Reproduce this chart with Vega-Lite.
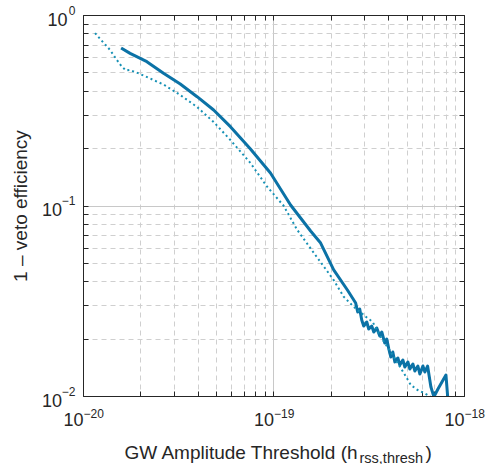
{
  "$schema": "https://vega.github.io/schema/vega-lite/v6.json",
  "width": 381,
  "height": 381,
  "autosize": {"type": "none"},
  "padding": {"left": 83, "top": 15, "right": 22, "bottom": 68},
  "background": "white",
  "config": {
    "view": {"stroke": "#262626", "strokeWidth": 1},
    "axis": {
      "labelFont": "Liberation Sans",
      "titleFont": "Liberation Sans",
      "labelFontSize": 18,
      "titleFontSize": 19,
      "titleFontWeight": "normal",
      "labelColor": "#262626",
      "titleColor": "#262626",
      "domainColor": "#262626",
      "tickColor": "#262626",
      "labelFlush": false,
      "labelOverlap": false,
      "labelBound": false
    }
  },
  "datasets": {
    "solid": [
      {"h": 1.585e-20, "e": 0.671},
      {"h": 1.767e-20, "e": 0.629},
      {"h": 2.164e-20, "e": 0.569},
      {"h": 2.646e-20, "e": 0.494},
      {"h": 3.24e-20, "e": 0.434},
      {"h": 3.97e-20, "e": 0.3725},
      {"h": 4.85e-20, "e": 0.3172},
      {"h": 5.94e-20, "e": 0.2593},
      {"h": 7.57e-20, "e": 0.198},
      {"h": 9.64e-20, "e": 0.148},
      {"h": 1.229e-19, "e": 0.1006},
      {"h": 1.566e-19, "e": 0.0735},
      {"h": 1.768e-19, "e": 0.0635},
      {"h": 2.07e-19, "e": 0.0459},
      {"h": 2.443e-19, "e": 0.036},
      {"h": 2.7e-19, "e": 0.03078},
      {"h": 2.767e-19, "e": 0.0276},
      {"h": 2.835e-19, "e": 0.02862},
      {"h": 2.905e-19, "e": 0.02506},
      {"h": 2.976e-19, "e": 0.02331},
      {"h": 3.087e-19, "e": 0.02446},
      {"h": 3.162e-19, "e": 0.02247},
      {"h": 3.279e-19, "e": 0.02331},
      {"h": 3.36e-19, "e": 0.02168},
      {"h": 3.484e-19, "e": 0.02275},
      {"h": 3.613e-19, "e": 0.02065},
      {"h": 3.702e-19, "e": 0.02168},
      {"h": 3.839e-19, "e": 0.01897},
      {"h": 3.933e-19, "e": 0.01992},
      {"h": 4.03e-19, "e": 0.01765},
      {"h": 4.13e-19, "e": 0.01602},
      {"h": 4.23e-19, "e": 0.01702},
      {"h": 4.335e-19, "e": 0.01509},
      {"h": 4.495e-19, "e": 0.01583},
      {"h": 4.605e-19, "e": 0.01455},
      {"h": 4.775e-19, "e": 0.01545},
      {"h": 4.893e-19, "e": 0.0142},
      {"h": 5.074e-19, "e": 0.01509},
      {"h": 5.198e-19, "e": 0.01386},
      {"h": 5.39e-19, "e": 0.01472},
      {"h": 5.523e-19, "e": 0.01353},
      {"h": 5.727e-19, "e": 0.01437},
      {"h": 5.868e-19, "e": 0.01304},
      {"h": 6.085e-19, "e": 0.01437},
      {"h": 6.234e-19, "e": 0.01337},
      {"h": 6.44e-19, "e": 0.01437},
      {"h": 6.7e-19, "e": 0.01119},
      {"h": 6.95e-19, "e": 0.0099},
      {"h": 7.3e-19, "e": 0.01088},
      {"h": 7.66e-19, "e": 0.01184},
      {"h": 8.04e-19, "e": 0.01289},
      {"h": 8.21e-19, "e": 0.0099}
    ],
    "dotted": [
      {"h": 1.157e-20, "e": 0.804},
      {"h": 1.259e-20, "e": 0.73},
      {"h": 1.388e-20, "e": 0.655},
      {"h": 1.492e-20, "e": 0.588},
      {"h": 1.599e-20, "e": 0.5355},
      {"h": 1.684e-20, "e": 0.5113},
      {"h": 1.767e-20, "e": 0.5144},
      {"h": 1.995e-20, "e": 0.49},
      {"h": 2.252e-20, "e": 0.464},
      {"h": 2.646e-20, "e": 0.4316},
      {"h": 3.24e-20, "e": 0.38},
      {"h": 3.97e-20, "e": 0.329},
      {"h": 4.85e-20, "e": 0.2744},
      {"h": 5.94e-20, "e": 0.2208},
      {"h": 7.57e-20, "e": 0.167},
      {"h": 9.26e-20, "e": 0.1255},
      {"h": 1.129e-19, "e": 0.0998},
      {"h": 1.333e-19, "e": 0.0744},
      {"h": 1.63e-19, "e": 0.0563},
      {"h": 2.07e-19, "e": 0.0406},
      {"h": 2.335e-19, "e": 0.0332},
      {"h": 2.636e-19, "e": 0.0294},
      {"h": 3.11e-19, "e": 0.02567},
      {"h": 3.31e-19, "e": 0.02455},
      {"h": 3.66e-19, "e": 0.0204},
      {"h": 4.13e-19, "e": 0.017},
      {"h": 4.83e-19, "e": 0.0132},
      {"h": 5.26e-19, "e": 0.01142},
      {"h": 5.71e-19, "e": 0.01075},
      {"h": 6.16e-19, "e": 0.01037},
      {"h": 6.7e-19, "e": 0.0099}
    ]
  },
  "layer": [
    {
      "data": {"name": "solid"},
      "mark": {"type": "line", "color": "#0b72a6", "strokeWidth": 3, "clip": true, "strokeJoin": "round"},
      "encoding": {
        "x": {
          "field": "h", "type": "quantitative",
          "scale": {"type": "log", "domain": [1e-20, 1e-18], "nice": false},
          "axis": {
            "orient": "bottom",
            "title": "GW Amplitude Threshold (h",
            "titleX": 41, "titleY": 62, "titleAlign": "left", "titleBaseline": "alphabetic", "titleAngle": 0,
            "values": [1e-20, 2e-20, 3e-20, 4e-20, 5e-20, 6e-20, 7e-20, 8e-20, 9e-20, 1e-19, 2e-19, 3e-19, 4e-19, 5e-19, 6e-19, 7e-19, 8e-19, 9e-19, 1e-18],
            "labelExpr": "abs(log(datum.value)/LN10 - round(log(datum.value)/LN10)) < 0.001 ? '10' : ''",
            "labelAlign": "right",
            "labelBaseline": "alphabetic",
            "labelPadding": 34,
            "tickSize": -5,
            "grid": true,
            "gridColor": {"condition": {"test": "abs(log(datum.value)/LN10 - round(log(datum.value)/LN10)) < 0.001", "value": "#c8c8c8"}, "value": "#cfcfcf"},
            "gridDash": {"condition": {"test": "abs(log(datum.value)/LN10 - round(log(datum.value)/LN10)) < 0.001", "value": []}, "value": [5, 4]}
          }
        },
        "y": {
          "field": "e", "type": "quantitative",
          "scale": {"type": "log", "domain": [0.01, 1], "nice": false},
          "axis": {
            "orient": "left",
            "title": "1 – veto efficiency",
            "titleX": -63, "titleY": 190.5, "titleAngle": -90, "titleAlign": "center", "titleBaseline": "middle",
            "values": [0.01, 0.02, 0.03, 0.04, 0.05, 0.06, 0.07, 0.08, 0.09, 0.1, 0.2, 0.3, 0.4, 0.5, 0.6, 0.7, 0.8, 0.9, 1],
            "labelExpr": "abs(log(datum.value)/LN10 - round(log(datum.value)/LN10)) < 0.001 ? '10' : ''",
            "labelAlign": "right",
            "labelBaseline": "alphabetic",
            "labelOffset": 10,
            "labelPadding": {"condition": {"test": "datum.value > 0.5", "value": 21}, "value": 26.5},
            "tickSize": -5,
            "grid": true,
            "gridColor": {"condition": {"test": "abs(log(datum.value)/LN10 - round(log(datum.value)/LN10)) < 0.001", "value": "#c8c8c8"}, "value": "#cfcfcf"},
            "gridDash": {"condition": {"test": "abs(log(datum.value)/LN10 - round(log(datum.value)/LN10)) < 0.001", "value": []}, "value": [5, 4]}
          }
        }
      }
    },
    {
      "data": {"name": "dotted"},
      "mark": {"type": "line", "color": "#1691b5", "strokeWidth": 2, "strokeDash": [2, 3], "clip": true},
      "encoding": {
        "x": {
          "field": "h", "type": "quantitative",
          "axis": {
            "orient": "top", "labels": false, "grid": false,
            "title": ")",
            "titleX": 342, "titleY": 443, "titleAlign": "left", "titleBaseline": "alphabetic", "titleAngle": 0,
            "values": [1e-20, 2e-20, 3e-20, 4e-20, 5e-20, 6e-20, 7e-20, 8e-20, 9e-20, 1e-19, 2e-19, 3e-19, 4e-19, 5e-19, 6e-19, 7e-19, 8e-19, 9e-19, 1e-18],
            "tickSize": -5
          }
        },
        "y": {
          "field": "e", "type": "quantitative",
          "axis": {
            "orient": "right", "title": null, "labels": false, "grid": false,
            "values": [0.01, 0.02, 0.03, 0.04, 0.05, 0.06, 0.07, 0.08, 0.09, 0.1, 0.2, 0.3, 0.4, 0.5, 0.6, 0.7, 0.8, 0.9, 1],
            "tickSize": -5
          }
        }
      }
    },
    {
      "data": {"name": "solid"},
      "mark": {"type": "line", "opacity": 0},
      "encoding": {
        "x": {
          "field": "h", "type": "quantitative",
          "axis": {
            "orient": "bottom", "grid": false, "ticks": false, "domain": false,
            "title": "rss,thresh",
            "titleFontSize": 14.5,
            "titleX": 276, "titleY": 66, "titleAlign": "left", "titleBaseline": "alphabetic", "titleAngle": 0,
            "values": [1e-20, 1e-19, 1e-18],
            "labelExpr": "datum.value < 5e-20 ? '−20' : datum.value < 5e-19 ? '−19' : '−18'",
            "labelFontSize": 12,
            "labelAlign": "left",
            "labelBaseline": "alphabetic",
            "labelPadding": 21
          }
        },
        "y": {
          "field": "e", "type": "quantitative",
          "axis": {
            "orient": "left", "grid": false, "ticks": false, "domain": false, "title": null,
            "values": [0.01, 0.1, 1],
            "labelExpr": "datum.value > 0.5 ? '0' : datum.value > 0.05 ? '−1' : '−2'",
            "labelFontSize": 12,
            "labelAlign": "right",
            "labelBaseline": "alphabetic",
            "labelOffset": -1,
            "labelPadding": 8
          }
        }
      }
    }
  ],
  "resolve": {"axis": {"x": "independent", "y": "independent"}}
}
